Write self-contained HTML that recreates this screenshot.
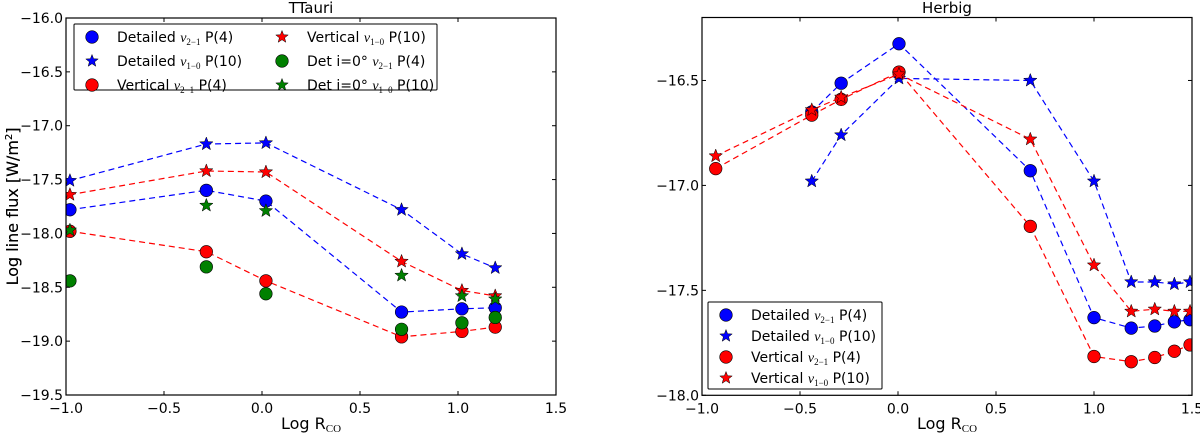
<!DOCTYPE html>
<html><head><meta charset="utf-8"><style>
body{margin:0;background:#fff}
svg{display:block;font-family:"DejaVu Sans","Liberation Sans",sans-serif}
</style></head><body>
<svg id="chart" width="1200" height="434" viewBox="0 0 1200 434" xmlns="http://www.w3.org/2000/svg">
<defs>
<clipPath id="clipL"><rect x="66" y="18" width="490" height="377"/></clipPath>
<clipPath id="clipR"><rect x="702" y="17.5" width="490" height="378"/></clipPath>
</defs>
</svg>
<script>
// ---------- Left (TTauri) data ----------
const ttX = [-0.98, -0.284, 0.02, 0.712, 1.02, 1.19];
const ttDetV21 = [-17.78, -17.6, -17.7, -18.73, -18.7, -18.69];
const ttDetV10 = [-17.51, -17.17, -17.16, -17.78, -18.19, -18.32];
const ttVerV21 = [-17.98, -18.17, -18.44, -18.96, -18.91, -18.87];
const ttVerV10 = [-17.64, -17.42, -17.43, -18.26, -18.53, -18.58];
const ttDet0V21 = [-18.44, -18.31, -18.56, -18.89, -18.83, -18.78];
const ttDet0V10 = [-17.97, -17.74, -17.79, -18.39, -18.58, -18.61];
const ttXTicks = [-1.0, -0.5, 0.0, 0.5, 1.0, 1.5];
const ttYTicks = [-16.0, -16.5, -17.0, -17.5, -18.0, -18.5, -19.0, -19.5];
// ---------- Right (Herbig) data ----------
const hbX = [-0.93, -0.44, -0.29, 0.005, 0.675, 1.0, 1.19, 1.31, 1.41, 1.49];
const hbDetV21 = [null, -16.65, -16.513, -16.325, -16.93, -17.63, -17.68, -17.67, -17.65, -17.64];
const hbDetV10 = [null, -16.98, -16.76, -16.49, -16.5, -16.98, -17.46, -17.46, -17.47, -17.46];
const hbVerV21 = [-16.92, -16.665, -16.59, -16.46, -17.195, -17.815, -17.84, -17.82, -17.79, -17.76];
const hbVerV10 = [-16.86, -16.64, -16.58, -16.47, -16.78, -17.38, -17.6, -17.59, -17.6, -17.6];
const hbXTicks = [-1.0, -0.5, 0.0, 0.5, 1.0, 1.5];
const hbYTicks = [-16.5, -17.0, -17.5, -18.0];

const NS = "http://www.w3.org/2000/svg";
const svg = document.getElementById('chart');
function mk(tag, attrs, parent) {
  const e = document.createElementNS(NS, tag);
  for (const k in attrs) e.setAttribute(k, attrs[k]);
  (parent || svg).appendChild(e);
  return e;
}
function fmt(v){ const s=v.toFixed(1); return s.replace('-','\u2212'); }
function starPath(cx, cy, R) {
  const r = R * 0.42; let d = '';
  for (let i = 0; i < 10; i++) {
    const a = -Math.PI/2 + i*Math.PI/5, rr = i%2 ? r : R;
    d += (i?'L':'M') + (cx+rr*Math.cos(a)).toFixed(2) + ' ' + (cy+rr*Math.sin(a)).toFixed(2);
  }
  return d + 'Z';
}

function panel(cfg) {
  const {x0,x1,y0,y1,xmin,xmax,ymin,ymax,title,xTicks,yTicks,clip,prefix} = cfg;
  const sx = v => x0 + (v - xmin)/(xmax - xmin)*(x1 - x0);
  const sy = v => y0 + (ymax - v)/(ymax - ymin)*(y1 - y0);
  const g = mk('g', {});
  
  
  const t = mk('text', {x:(x0+x1)/2, y:13, 'text-anchor':'middle', 'font-size':15}, g);
  t.textContent = title;
  
  
  xTicks.forEach(v => {
    const x = sx(v);
    mk('line', {x1:x, x2:x, y1:y1, y2:y1-4, stroke:'#000', 'stroke-width':1}, g);
    mk('line', {x1:x, x2:x, y1:y0, y2:y0+4, stroke:'#000', 'stroke-width':1}, g);
    const tl = mk('text', {x:x, y:y1+18, 'text-anchor':'middle', 'font-size':14}, g);
    tl.textContent = fmt(v);
    
    
  });
  yTicks.forEach(v => {
    const y = sy(v);
    mk('line', {x1:x0, x2:x0+4, y1:y, y2:y, stroke:'#000', 'stroke-width':1}, g);
    mk('line', {x1:x1, x2:x1-4, y1:y, y2:y, stroke:'#000', 'stroke-width':1}, g);
    const tl = mk('text', {x:x0-3, y:y+5, 'text-anchor':'end', 'font-size':14}, g);
    tl.textContent = fmt(v);
    
    
  });
  const xl = mk('text', {x:(x0+x1)/2, y:429, 'text-anchor':'middle', 'font-size':16}, g);
  xl.innerHTML = 'Log R<tspan font-size="11" dy="3" font-family="Liberation Serif, serif">CO</tspan>';
  
  
  const yl = mk('text', {x:0, y:0, 'text-anchor':'middle', 'font-size':16, transform:`translate(18,${(y0+y1)/2}) rotate(-90)`}, g);
  yl.innerHTML = 'Log line flux [W/m<tspan font-size="10" dy="-6">2</tspan><tspan dy="6">]</tspan>';
  
  
  const plot = mk('g', {'clip-path':`url(#${clip})`}, g);
  
  
  return {g, plot, sx, sy, frame:()=>{
    const f = mk('rect', {x:x0, y:y0, width:x1-x0, height:y1-y0, fill:'none', stroke:'#000', 'stroke-width':1.2}, g);
    
    
  }};
}

function series(p, xs, ys, color, marker, line, name) {
  const grp = mk('g', {}, p.plot);
  
  
  if (line) {
    const pts = [];
    xs.forEach((x,i)=>{ if (ys[i]!==null) pts.push(p.sx(x).toFixed(1)+','+p.sy(ys[i]).toFixed(1)); });
    const pl = mk('polyline', {points:pts.join(' '), fill:'none', stroke:color, 'stroke-width':1.2, 'stroke-dasharray':'6,4'}, grp);
    
    
  }
  xs.forEach((x,i)=>{
    if (ys[i]===null) return;
    const cx = p.sx(x), cy = p.sy(ys[i]);
    let m;
    if (marker === 'o') m = mk('circle', {cx, cy, r:6.3, fill:color, stroke:'#000', 'stroke-width':0.6}, grp);
    else m = mk('path', {d:starPath(cx, cy, 7), fill:color, stroke:'#000', 'stroke-width':0.5}, grp);
    
    
  });
}

function legend(x, y, w, h, entries, cols, colW, rowH, name) {
  const g = mk('g', {});
  
  
  mk('rect', {x, y, width:w, height:h, fill:'#fff', stroke:'#000', 'stroke-width':1, rx:1}, g);
  entries.forEach((e, i) => {
    const c = Math.floor(i / Math.ceil(entries.length/cols)), r = i % Math.ceil(entries.length/cols);
    const mx = x + 18 + c*colW, my = y + 13 + r*rowH;
    const eg = mk('g', {}, g);
    
    
    if (e.m === 'o') mk('circle', {cx:mx, cy:my, r:6.3, fill:e.c, stroke:'#000', 'stroke-width':0.6}, eg);
    else mk('path', {d:starPath(mx, my, 6.5), fill:e.c, stroke:'#000', 'stroke-width':0.5}, eg);
    const t = mk('text', {x:mx+25, y:my+5, 'font-size':14}, eg);
    t.innerHTML = `${e.pre} <tspan font-family="Liberation Serif, serif" font-style="italic">v</tspan><tspan font-family="Liberation Serif, serif" font-size="9" dy="3">${e.sub}</tspan><tspan dy="-3"> ${e.post}</tspan>`;
  });
}

const L = panel({x0:66,x1:556,y0:18,y1:395,xmin:-1,xmax:1.5,ymin:-19.5,ymax:-16.0,title:'TTauri',xTicks:ttXTicks,yTicks:ttYTicks,clip:'clipL',prefix:'ttauri'});
series(L, ttX, ttDetV21, '#0000ff', 'o', true, 'ttauri-detailed-v21');
series(L, ttX, ttDetV10, '#0000ff', '*', true, 'ttauri-detailed-v10');
series(L, ttX, ttVerV21, '#ff0000', 'o', true, 'ttauri-vertical-v21');
series(L, ttX, ttVerV10, '#ff0000', '*', true, 'ttauri-vertical-v10');
series(L, ttX, ttDet0V21, '#008000', 'o', false, 'ttauri-det-i0-v21');
series(L, ttX, ttDet0V10, '#008000', '*', false, 'ttauri-det-i0-v10');
L.frame();
legend(74, 24, 363, 66, [
  {m:'o',c:'#0000ff',pre:'Detailed',sub:'2\u22121',post:'P(4)'},
  {m:'*',c:'#0000ff',pre:'Detailed',sub:'1\u22120',post:'P(10)'},
  {m:'o',c:'#ff0000',pre:'Vertical',sub:'2\u22121',post:'P(4)'},
  {m:'*',c:'#ff0000',pre:'Vertical',sub:'1\u22120',post:'P(10)'},
  {m:'o',c:'#008000',pre:'Det i=0\u00b0',sub:'2\u22121',post:'P(4)'},
  {m:'*',c:'#008000',pre:'Det i=0\u00b0',sub:'1\u22120',post:'P(10)'}
], 2, 190, 24, 'ttauri-legend');

const R = panel({x0:702,x1:1192,y0:17.5,y1:395.3,xmin:-1,xmax:1.5,ymin:-18.0,ymax:-16.2,title:'Herbig',xTicks:hbXTicks,yTicks:hbYTicks,clip:'clipR',prefix:'herbig'});
series(R, hbX, hbDetV21, '#0000ff', 'o', true, 'herbig-detailed-v21');
series(R, hbX, hbDetV10, '#0000ff', '*', true, 'herbig-detailed-v10');
series(R, hbX, hbVerV21, '#ff0000', 'o', true, 'herbig-vertical-v21');
series(R, hbX, hbVerV10, '#ff0000', '*', true, 'herbig-vertical-v10');
R.frame();
legend(708, 302, 174, 87, [
  {m:'o',c:'#0000ff',pre:'Detailed',sub:'2\u22121',post:'P(4)'},
  {m:'*',c:'#0000ff',pre:'Detailed',sub:'1\u22120',post:'P(10)'},
  {m:'o',c:'#ff0000',pre:'Vertical',sub:'2\u22121',post:'P(4)'},
  {m:'*',c:'#ff0000',pre:'Vertical',sub:'1\u22120',post:'P(10)'}
], 1, 0, 21, 'herbig-legend');
</script>
</body></html>
